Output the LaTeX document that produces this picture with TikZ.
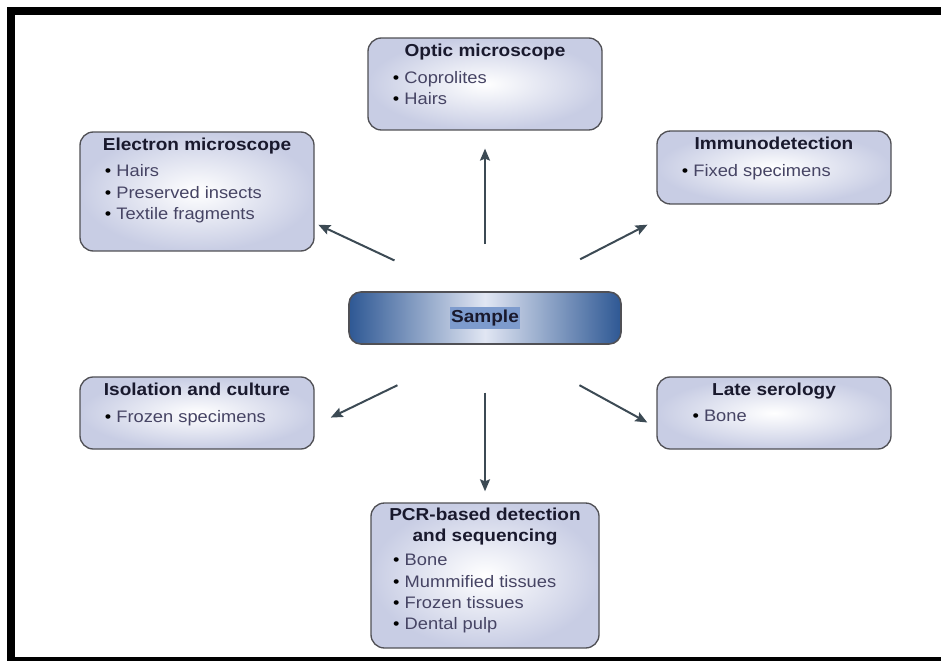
\documentclass[tikz,border=0pt]{standalone}
\usepackage{fontspec}
\setmainfont{Liberation Sans}[FakeStretch=1.1]
\usetikzlibrary{arrows.meta}
\usetikzlibrary{positioning}
\definecolor{panelfill}{RGB}{200,205,228}
\definecolor{panelline}{RGB}{80,80,85}
\definecolor{titlecol}{RGB}{25,25,45}
\definecolor{itemcol}{RGB}{70,68,100}
\definecolor{arrowcol}{RGB}{60,74,84}
\definecolor{sampblue}{RGB}{46,88,148}
\definecolor{samplight}{RGB}{225,230,243}
\definecolor{markblue}{RGB}{125,155,205}
\newcommand{\itembul}{\textcolor{black}{\textbullet}\ }

\begin{document}
\begin{tikzpicture}[x=0.7513pt,y=-0.7513pt]
\tikzstyle{panel}=[draw=panelline,line width=1pt,rounded corners=10pt,inner color=white,outer color=panelfill,minimum width=175.8pt,inner sep=0pt]
\tikzstyle{head}=[font=\bfseries\fontsize{13}{15.5}\selectfont,text=titlecol,align=center,inner sep=0pt]
\tikzstyle{items}=[font=\fontsize{12.5}{16}\selectfont,text=itemcol,align=left,inner sep=0pt]
\tikzstyle{link}=[draw=arrowcol,line width=1.5pt,-{Stealth[length=9pt,width=7.5pt,inset=1.5pt]}]

\useasboundingbox (0,0) rectangle (941,661);
% frame
\draw[line width=6pt] (941,11) -- (11,11) -- (11,661) -- (941,661);

% centre
\node [draw=panelline,line width=1.2pt,rounded corners=9pt,left color=sampblue,right color=sampblue,middle color=samplight,minimum width=204.4pt,minimum height=39.1pt] (sample) at (485,318) {};
\node [head,fill=markblue,inner xsep=1pt,inner ysep=2.5pt] (sample-t) at (sample) {Sample};

% boxes round it
\node [panel,minimum height=69.1pt] (optic) at (485,84) {};
\node [head,below=4.5pt of optic.north] (optic-t) {Optic microscope};
\node [items,below right=25.5pt and 19pt of optic.north west] (optic-l) {\itembul Coprolites\\ \itembul Hairs};

\node [panel,minimum height=89.4pt] (em) at (197,191.5) {};
\node [head,below=4.5pt of em.north] (em-t) {Electron microscope};
\node [items,below right=25pt and 19pt of em.north west] (em-l) {\itembul Hairs\\ \itembul Preserved insects\\ \itembul Textile fragments};

\node [panel,minimum height=54.8pt] (immuno) at (774,167.5) {};
\node [head,below=4.5pt of immuno.north] (immuno-t) {Immunodetection};
\node [items,below right=25.5pt and 19pt of immuno.north west] (immuno-l) {\itembul Fixed specimens};

\node [panel,minimum height=54.1pt] (iso) at (197,413) {};
\node [head,below=4.5pt of iso.north] (iso-t) {Isolation and culture};
\node [items,below right=25.5pt and 19pt of iso.north west] (iso-l) {\itembul Frozen specimens};

\node [panel,minimum height=54.1pt] (late) at (774,413) {};
\node [head,below=4.5pt of late.north] (late-t) {Late serology};
\node [items,below right=25.5pt and 27pt of late.north west] (late-l) {\itembul Bone};

\node [panel,minimum width=171.3pt,minimum height=108.9pt] (pcr) at (485,575.5) {};
\node [head,below=4pt of pcr.north] (pcr-t) {PCR-based detection\\ and sequencing};
\node [items,below right=39pt and 17pt of pcr.north west] (pcr-l) {\itembul Bone\\ \itembul Mummified tissues\\ \itembul Frozen tissues\\ \itembul Dental pulp};

% arrows
\draw[link,shorten <=35.3pt,shorten >=13.5pt] (sample.north) -- (optic.south);
\draw[link,shorten <=36pt,shorten >=8.3pt] (sample.south) -- (pcr.north);
\draw[link,shorten <=54.4pt,shorten >=3pt] (sample.133) -- (em.-15);
\draw[link,shorten <=52.4pt,shorten >=32.9pt] (sample.39) -- (immuno.203);
\draw[link,shorten <=69.6pt,shorten >=13.4pt] (sample.261) -- (iso.-6);
\draw[link,shorten <=63pt,shorten >=7.7pt] (sample.-52) -- (late.187);
\end{tikzpicture}
\end{document}
